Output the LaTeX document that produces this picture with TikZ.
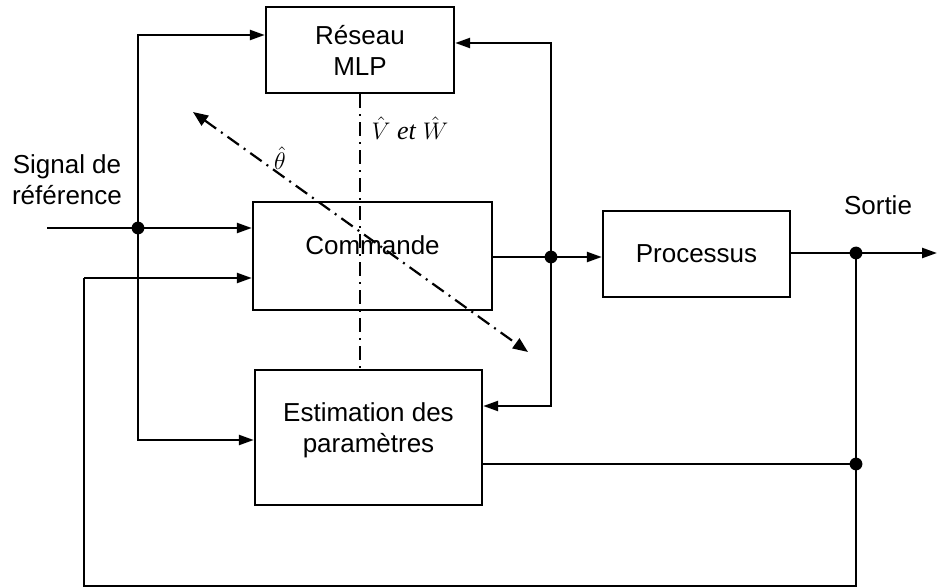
\documentclass[tikz,border=0pt]{standalone}
\usepackage{fontspec}
\setmainfont{Liberation Sans}
\newfontfamily\tms{Liberation Serif}
\usetikzlibrary{arrows.meta}

\tikzset{
  bloc/.style={draw, line width=1.2pt, align=center},
  fleche/.style={line width=1.2pt, -{Triangle[length=7.5pt,width=5pt]}},
  fil/.style={line width=0.8pt},
  axe/.style={line width=1.1pt, dash pattern=on 7pt off 3pt on 1pt off 3pt},
}

\begin{document}
\begin{tikzpicture}[x=0.5pt,y=-0.5pt,font=\fontsize{13}{15.5}\selectfont]
\useasboundingbox (0,0) rectangle (937,588);
% les blocs
\node[bloc, minimum width=94pt, minimum height=43pt] (mlp) at (360,50) {Réseau\\MLP};
\node[bloc, minimum width=119.5pt, minimum height=54pt, text depth=11pt] (cmd) at (372.5,256) {Commande};
\node[bloc, minimum width=113.5pt, minimum height=67.5pt, text depth=9.5pt] (est) at (368.5,437.5) {Estimation des\\paramètres};
\node[bloc, minimum width=93.5pt, minimum height=43pt] (proc) at (696.5,254) {Processus};

% points de jonction
\coordinate (j1) at (138,228);
\coordinate (j2) at (551,257);
\coordinate (j3) at (856,253);
\coordinate (j4) at (856,464);
\coordinate (sig) at (47,228);
\coordinate (bcl) at (84,278);
\coordinate (bas) at (84,586);
\coordinate (out) at (937,253);

% entree de reference
\draw[fleche] (sig) -- (cmd.west |- j1);
\draw[fleche] (j1) |- ([yshift=7.5pt]mlp.west);
\draw[fleche] (j1) |- ([yshift=-1.25pt]est.west);

% commande vers processus
\draw[fleche] (cmd.east |- j2) -- (proc.west |- j2);
\draw[fleche] (j2) |- ([yshift=3.5pt]mlp.east);
\draw[fleche] (j2) |- ([yshift=15.75pt]est.east);

% sortie et retour
\draw[fleche] (proc.east |- j3) -- (out);
\draw[fil] (j3) -- (j3 |- bas) -| (bcl);
\draw[fleche] (bcl) -- (cmd.west |- bcl);
\draw[fil] (est.east |- j4) -- (j4);

\foreach \j in {j1,j2,j3,j4}
  \fill (\j) circle (3.2pt);

% parametres estimes
\draw[axe] (mlp.south) -- (est.north -| mlp.south);
\coordinate (d1) at (193,112);
\coordinate (d2) at (528,352);
\draw[axe, {Triangle[length=7.5pt,width=6pt]}-{Triangle[length=7.5pt,width=6pt]}] (d1) -- (d2);

% textes
\node (vw) at (410,128) {\tms$\hat{V}$ \textit{et} $\hat{W}$};
\node (theta) at (280,158) {$\hat{\theta}$};
\node[align=center] (signal) at (67,180) {Signal de\\référence};
\node (sortie) at (878,205) {Sortie};
\end{tikzpicture}
\end{document}
